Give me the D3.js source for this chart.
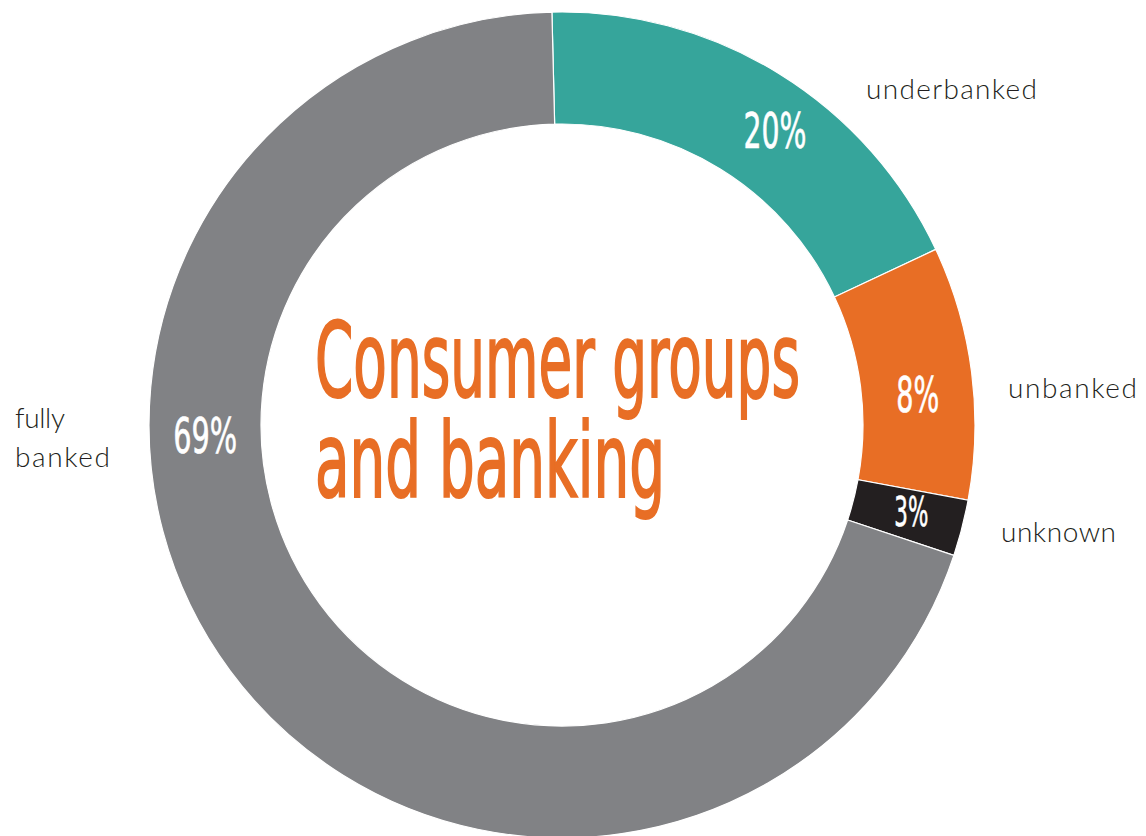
<!DOCTYPE html>
<html>
<head>
<meta charset="utf-8">
<script src="https://cdn.jsdelivr.net/npm/d3@7"></script>
<style>
  body { margin: 0; background: #fff; }
  svg { display: block; }
</style>
</head>
<body>
<div id="chart"></div>
<script>
// Slices as drawn in the ring (share of the full circle)
const groups = ["underbanked", "unbanked", "unknown", "fully banked"];
const shares = [18.4, 9.9, 2.2, 69.5];
const pctLabels = ["20%", "8%", "3%", "69%"];
const colors = ["#36a59b", "#e86e25", "#231f20", "#818285"];
const titleLines = ["Consumer groups", "and banking"];

const width = 1146, height = 836;
const cx = 562, cy = 425;
const outerR = 413, innerR = 301;
const startAngle = -1.4 * Math.PI / 180;

const condensed = "'Liberation Sans Narrow', 'DejaVu Sans Condensed', 'Roboto', sans-serif";
const lightFont = "Lato, 'Open Sans', sans-serif";

// where each percentage sits (degrees clockwise from top, radius) and its size
const pctLayout = [
    { angle: 35.8, r: 364, size: 50, len: 63 },
    { angle: 85,   r: 357, size: 50, len: 43 },
    { angle: 104,  r: 360, size: 40, len: 34 },
    { angle: 268.4, r: 357, size: 50, len: 64 }
];
// outside names: x, first baseline, widths per line
const nameLayout = [
    { x: 866, y: 99, lens: [171] },
    { x: 1008, y: 398, lens: [129] },
    { x: 1001, y: 542, lens: [115] },
    { x: 15, y: 428, lens: [50, 95] }
];

const svg = d3.select("#chart")
    .append("svg")
    .attr("width", width)
    .attr("height", height);

svg.append("rect").attr("width", width).attr("height", height).attr("fill", "#fff");

const g = svg.append("g").attr("transform", `translate(${cx},${cy})`);

const pie = d3.pie()
    .sort(null)
    .value(d => d)
    .startAngle(startAngle)
    .endAngle(startAngle + 2 * Math.PI);

const arc = d3.arc().innerRadius(innerR).outerRadius(outerR);

const slices = pie(shares);

g.selectAll("path.slice")
    .data(slices)
    .join("path")
    .attr("class", "slice")
    .attr("d", arc)
    .attr("fill", (d, i) => colors[i])
    .attr("stroke", "#fff")
    .attr("stroke-width", 1.2);

// percentage labels inside the ring
g.selectAll("text.pct")
    .data(slices)
    .join("text")
    .attr("class", "pct")
    .attr("x", (d, i) => pctLayout[i].r * Math.sin(pctLayout[i].angle * Math.PI / 180))
    .attr("y", (d, i) => -pctLayout[i].r * Math.cos(pctLayout[i].angle * Math.PI / 180))
    .attr("dy", "0.36em")
    .attr("text-anchor", "middle")
    .attr("font-family", condensed)
    .attr("font-size", (d, i) => pctLayout[i].size)
    .attr("textLength", (d, i) => pctLayout[i].len)
    .attr("lengthAdjust", "spacingAndGlyphs")
    .attr("fill", "#fff")
    .attr("stroke", "#fff")
    .attr("stroke-width", 0.6)
    .text((d, i) => pctLabels[i]);

// group names outside the ring
groups.forEach((name, i) => {
    const lines = name === "fully banked" ? ["fully", "banked"] : [name];
    const t = svg.append("text")
        .attr("font-family", lightFont)
        .attr("font-weight", 300)
        .attr("font-size", 28)
        .attr("fill", "#231f20");
    lines.forEach((line, j) => {
        t.append("tspan")
            .attr("x", nameLayout[i].x)
            .attr("y", nameLayout[i].y + j * 39)
            .attr("textLength", nameLayout[i].lens[j])
            .text(line);
    });
});

// title in the hole
const titleLens = [485, 350];
titleLines.forEach((line, i) => {
    svg.append("text")
        .attr("x", 315)
        .attr("y", 397 + i * 100)
        .attr("font-family", condensed)
        .attr("font-size", 103)
        .attr("fill", "#e86e25")
        .attr("stroke", "#e86e25")
        .attr("stroke-width", 2)
        .attr("textLength", titleLens[i])
        .attr("lengthAdjust", "spacingAndGlyphs")
        .text(line);
});
</script>
</body>
</html>
